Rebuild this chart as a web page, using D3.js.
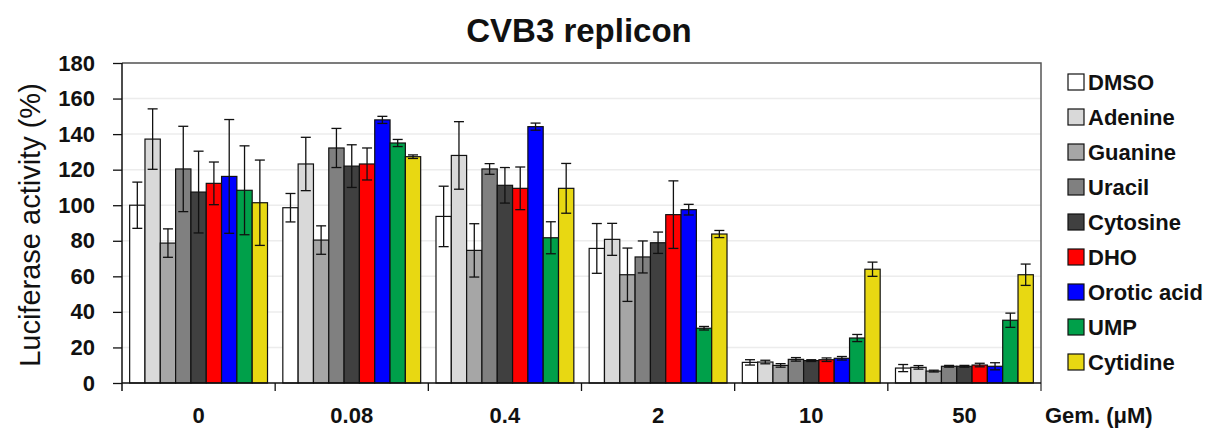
<!DOCTYPE html>
<html>
<head>
<meta charset="utf-8">
<script src="https://cdn.jsdelivr.net/npm/d3@7"></script>
<style>
  body { margin: 0; background: #fff; }
  text { font-family: "Liberation Sans", Arial, sans-serif; }
</style>
</head>
<body>
<script>
"use strict";
(function(){
    const doses = ["0", "0.08", "0.4", "2", "10", "50"]
    const compounds = ["DMSO", "Adenine", "Guanine", "Uracil", "Cytosine", "DHO", "Orotic acid", "UMP", "Cytidine"]
    const colors = ["#ffffff", "#d9d9d9", "#a6a6a6", "#808080", "#404040", "#ff0000", "#0000ff", "#00a04a", "#e8d812"]
    const yTicks = [0, 20, 40, 60, 80, 100, 120, 140, 160, 180]

    // one row per compound, one value per dose
    const means = [
        [100, 98.6, 93.7, 75.7, 11.6, 8.4],
        [137.2, 123.2, 128, 80.8, 11.8, 8.8],
        [78.7, 80.4, 74.6, 60.9, 9.9, 6.7],
        [120.4, 132.2, 120.4, 70.9, 13.3, 9.4],
        [107.4, 122, 111.2, 78.9, 12.6, 9.4],
        [112.3, 123.2, 109.5, 94.7, 13.1, 10.1],
        [116.2, 148, 144.2, 97.5, 13.9, 9.4],
        [108.4, 135, 81.7, 30.8, 25.3, 35.3],
        [101.4, 127.3, 109.5, 83.8, 64, 60.9]
    ]
    const errors = [
        [13, 8, 17, 14, 1.5, 2],
        [17, 15, 19, 9, 1, 1],
        [8, 8, 15, 15, 1, 0.5],
        [24, 11, 3, 9, 1, 0.5],
        [23, 12, 10, 6, 0.5, 0.5],
        [12, 9, 12, 19, 1, 1],
        [32, 2, 2, 3, 1, 2],
        [25, 2, 9, 1, 2, 4],
        [24, 1, 14, 2, 4, 6]
    ]

    const m = { left: 122, right: 1041, top: 63, bottom: 383 }

    const svg = d3.select("body").append("svg")
        .attr("width", 1209)
        .attr("height", 429)

    const x0 = d3.scaleBand()
        .domain(doses)
        .range([m.left, m.right])

    const x1 = d3.scaleBand()
        .domain(compounds)
        .range([0, x0.bandwidth()])
        .paddingOuter(0.5)

    const y = d3.scaleLinear()
        .domain([0, 180])
        .range([m.bottom, m.top])

    // grid
    svg.append("g")
        .selectAll("line")
        .data(yTicks.slice(1))
        .enter()
        .append("line")
            .attr("x1", m.left)
            .attr("x2", m.right)
            .attr("y1", d => y(d))
            .attr("y2", d => y(d))
            .attr("stroke", "#ececec")
            .attr("stroke-width", 1.5)

    // frame top + right
    svg.append("path")
        .attr("d", `M${m.left},${m.top}H${m.right}V${m.bottom + 8}`)
        .attr("fill", "none")
        .attr("stroke", "#555")
        .attr("stroke-width", 1.5)

    // bars
    const groups = svg.append("g")
        .selectAll("g")
        .data(compounds)
        .enter()
        .append("g")
            .attr("fill", (d, i) => colors[i])

    const cells = (c, i) => doses.map((dose, j) => ({ dose: dose, v: means[i][j], e: errors[i][j], c: c }))

    groups.selectAll("rect")
        .data(cells)
        .enter()
        .append("rect")
            .attr("x", d => x0(d.dose) + x1(d.c))
            .attr("y", d => y(d.v))
            .attr("width", x1.bandwidth())
            .attr("height", d => y(0) - y(d.v))
            .attr("stroke", "#111")
            .attr("stroke-width", 1.2)

    // error bars
    const errs = groups.selectAll("g.err")
        .data(cells)
        .enter()
        .append("g")
            .attr("class", "err")
            .attr("transform", d => `translate(${x0(d.dose) + x1(d.c) + x1.bandwidth() / 2},0)`)
            .attr("stroke", "#111")
            .attr("stroke-width", 1.3)

    errs.append("line")
        .attr("y1", d => y(d.v + d.e))
        .attr("y2", d => y(d.v - d.e))
    errs.append("line")
        .attr("x1", -5).attr("x2", 5)
        .attr("y1", d => y(d.v + d.e))
        .attr("y2", d => y(d.v + d.e))
    errs.append("line")
        .attr("x1", -5).attr("x2", 5)
        .attr("y1", d => y(d.v - d.e))
        .attr("y2", d => y(d.v - d.e))

    // y axis
    const yAxis = d3.axisLeft(y)
        .tickValues(yTicks)
        .tickSize(9)
        .tickPadding(18)
    const ya = svg.append("g")
        .attr("transform", `translate(${m.left},0)`)
        .call(yAxis)
    ya.select(".domain").remove()
    ya.append("line")
        .attr("y1", m.top).attr("y2", m.bottom + 8)
        .attr("stroke", "#111").attr("stroke-width", 1.5)
    ya.selectAll(".tick line").attr("stroke", "#111").attr("stroke-width", 1.3)
    ya.selectAll("text")
        .attr("fill", "#111")
        .style("font-size", "22px")
        .style("font-weight", "bold")

    // x axis
    const xAxis = d3.axisBottom(x0).tickSize(0).tickPadding(24)
    const xa = svg.append("g")
        .attr("transform", `translate(0,${m.bottom})`)
        .call(xAxis)
    xa.select(".domain").remove()
    xa.append("line")
        .attr("x1", m.left).attr("x2", m.right)
        .attr("stroke", "#111").attr("stroke-width", 1.5)
    xa.selectAll(".sep")
        .data(doses.slice(1))
        .enter()
        .append("line")
            .attr("x1", d => x0(d)).attr("x2", d => x0(d))
            .attr("y1", 0).attr("y2", 8)
            .attr("stroke", "#111").attr("stroke-width", 1.3)
    xa.selectAll("text")
        .attr("fill", "#111")
        .style("font-size", "22px")
        .style("font-weight", "bold")

    svg.append("text")
        .attr("x", 1045)
        .attr("y", 423)
        .style("font-size", "22px")
        .style("font-weight", "bold")
        .attr("fill", "#111")
        .text("Gem. (μM)")

    // titles
    svg.append("text")
        .attr("x", 579)
        .attr("y", 42)
        .attr("text-anchor", "middle")
        .style("font-size", "33px")
        .style("font-weight", "bold")
        .attr("fill", "#111")
        .text("CVB3 replicon")

    svg.append("text")
        .attr("transform", `translate(40,225) rotate(-90)`)
        .attr("text-anchor", "middle")
        .style("font-size", "29px")
        .attr("fill", "#111")
        .text("Luciferase activity (%)")

    // legend
    const leg = svg.append("g")
        .selectAll("g")
        .data(compounds)
        .enter()
        .append("g")
            .attr("transform", (d, i) => `translate(1068,${82 + i * 35})`)
    leg.append("rect")
        .attr("x", 0).attr("y", -8)
        .attr("width", 16).attr("height", 16)
        .attr("fill", (d, i) => colors[i])
        .attr("stroke", "#111")
        .attr("stroke-width", 1.2)
    leg.append("text")
        .attr("x", 20)
        .attr("y", 8)
        .style("font-size", "22px")
        .style("font-weight", "bold")
        .attr("fill", "#111")
        .text(d => d)
})()
</script>
</body>
</html>
